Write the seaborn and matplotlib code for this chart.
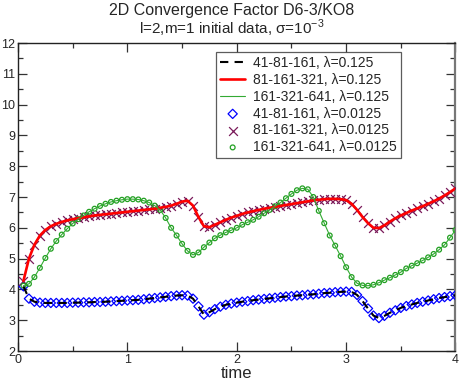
import numpy as np
import pandas as pd
import matplotlib
matplotlib.use("Agg")
import matplotlib.pyplot as plt
import seaborn as sns
from matplotlib.ticker import MultipleLocator

# sampling times (0.05 .. 4.00)
time = np.round(np.arange(1, 81) * 0.05, 2)

# convergence factor, 41-81-161 resolutions
cf_41 = [4.10, 3.70, 3.60, 3.57, 3.56, 3.56, 3.56, 3.56, 3.56, 3.57,
         3.57, 3.58, 3.58, 3.59, 3.59, 3.60, 3.61, 3.62, 3.63, 3.64,
         3.65, 3.66, 3.68, 3.70, 3.72, 3.74, 3.76, 3.78, 3.80, 3.81,
         3.80, 3.70, 3.45, 3.18, 3.26, 3.36, 3.44, 3.50, 3.54, 3.57,
         3.60, 3.62, 3.65, 3.67, 3.69, 3.71, 3.73, 3.75, 3.77, 3.78,
         3.80, 3.81, 3.83, 3.84, 3.86, 3.88, 3.89, 3.91, 3.92, 3.93,
         3.92, 3.82, 3.62, 3.38, 3.15, 3.07, 3.14, 3.24, 3.32, 3.40,
         3.46, 3.51, 3.56, 3.60, 3.64, 3.68, 3.72, 3.75, 3.78, 3.81]

# 81-161-321 resolutions
cf_81 = [4.28, 5.00, 5.45, 5.75, 5.93, 6.05, 6.13, 6.19, 6.24, 6.28,
         6.31, 6.34, 6.37, 6.40, 6.42, 6.44, 6.46, 6.48, 6.50, 6.52,
         6.54, 6.56, 6.58, 6.60, 6.62, 6.65, 6.68, 6.72, 6.78, 6.85,
         6.88, 6.72, 6.35, 6.05, 6.02, 6.10, 6.18, 6.26, 6.33, 6.39,
         6.45, 6.50, 6.54, 6.58, 6.62, 6.65, 6.68, 6.71, 6.74, 6.77,
         6.80, 6.83, 6.86, 6.89, 6.91, 6.93, 6.94, 6.94, 6.93, 6.90,
         6.78, 6.58, 6.35, 6.15, 6.00, 5.99, 6.08, 6.20, 6.31, 6.40,
         6.48, 6.56, 6.63, 6.70, 6.78, 6.86, 6.95, 7.05, 7.16, 7.28]

# 161-321-641 resolutions
cf_161 = [4.12, 4.18, 4.40, 4.70, 5.02, 5.32, 5.57, 5.78, 5.97, 6.14,
          6.28, 6.40, 6.52, 6.62, 6.71, 6.78, 6.84, 6.88, 6.91, 6.93,
          6.93, 6.92, 6.88, 6.82, 6.72, 6.58, 6.32, 6.00, 5.75, 5.48,
          5.25, 5.12, 5.20, 5.37, 5.52, 5.66, 5.76, 5.85, 5.92, 6.00,
          6.10, 6.18, 6.26, 6.36, 6.47, 6.58, 6.70, 6.82, 6.96, 7.10,
          7.22, 7.28, 7.25, 7.00, 6.55, 6.15, 5.75, 5.42, 5.08, 4.72,
          4.40, 4.20, 4.13, 4.12, 4.15, 4.22, 4.30, 4.38, 4.47, 4.56,
          4.68, 4.77, 4.85, 4.94, 5.04, 5.15, 5.29, 5.45, 5.68, 5.93]

labels_lines = ["41-81-161, \u03bb=0.125", "81-161-321, \u03bb=0.125",
                "161-321-641, \u03bb=0.125"]
labels_marks = ["41-81-161, \u03bb=0.0125", "81-161-321, \u03bb=0.0125",
                "161-321-641, \u03bb=0.0125"]

df = pd.DataFrame({"time": time, "cf41": cf_41, "cf81": cf_81, "cf161": cf_161})

sns.set_theme(style="ticks")
plt.rcParams["font.family"] = ["Liberation Sans", "DejaVu Sans"]
plt.rcParams["mathtext.fontset"] = "custom"
plt.rcParams["mathtext.rm"] = "Liberation Sans"

fig = plt.figure(figsize=(4.64, 3.82), dpi=100)
ax = fig.add_axes([18 / 464, 1 - 351 / 382, 437.5 / 464, 308 / 382])

# lines (lambda = 0.125)
sns.lineplot(data=df, x="time", y="cf41", ax=ax, color="black", lw=1.5,
             linestyle=(0, (4, 3)), label=labels_lines[0], zorder=5)
sns.lineplot(data=df, x="time", y="cf81", ax=ax, color="#ff0000", lw=1.9,
             label=labels_lines[1], zorder=5)
sns.lineplot(data=df, x="time", y="cf161", ax=ax, color="#33aa33", lw=0.8,
             label=labels_lines[2], zorder=5)

# markers (lambda = 0.0125)
sns.scatterplot(data=df, x="time", y="cf41", ax=ax, marker="D", s=22,
                facecolors="none", edgecolor="#0000ff", linewidth=0.9,
                label=labels_marks[0], zorder=3)
sns.scatterplot(data=df, x="time", y="cf81", ax=ax, marker="x", s=40,
                color="#7a1a5a", linewidth=0.9,
                label=labels_marks[1], zorder=3)
sns.scatterplot(data=df, x="time", y="cf161", ax=ax, marker="o", s=12,
                facecolors="none", edgecolor="#22a022", linewidth=0.9,
                label=labels_marks[2], zorder=4)

ax.set_xlim(0, 4)
ax.set_ylim(2, 12)
ax.xaxis.set_major_locator(MultipleLocator(1))
ax.xaxis.set_minor_locator(MultipleLocator(0.5))
ax.yaxis.set_major_locator(MultipleLocator(1))
ax.yaxis.set_minor_locator(MultipleLocator(0.5))
ax.tick_params(which="both", direction="in", top=True, right=True,
               labelsize=9, pad=2, color="#333333")
ax.tick_params(which="major", length=6.5, width=0.9)
ax.tick_params(which="minor", length=3.3, width=0.9)
for sp in ax.spines.values():
    sp.set_visible(True)
    sp.set_linewidth(1.0)
    sp.set_color("#222222")
ax.spines["right"].set_linewidth(1.6)
ax.spines["right"].set_color("#777777")

ax.set_xlabel("time", fontsize=12, labelpad=0)
ax.set_ylabel("")

fig.text(0.5, 1 - 10 / 382, "2D Convergence Factor D6-3/KO8", ha="center",
         va="center", fontsize=11.5)
fig.text(0.5, 1 - 28 / 382, "l=2,m=1 initial data, \u03c3=10$^{\\mathrm{-3}}$",
         ha="center", va="center", fontsize=11)

leg = ax.legend(loc="upper left", bbox_to_anchor=(198 / 437.5, 1 - 9 / 308),
                fontsize=10, frameon=True, fancybox=False, edgecolor="#333333",
                borderpad=0.3, labelspacing=0.2, handlelength=1.8,
                handletextpad=0.6, borderaxespad=0)
leg.get_frame().set_linewidth(0.9)

fig.savefig("out.png", dpi=100)
